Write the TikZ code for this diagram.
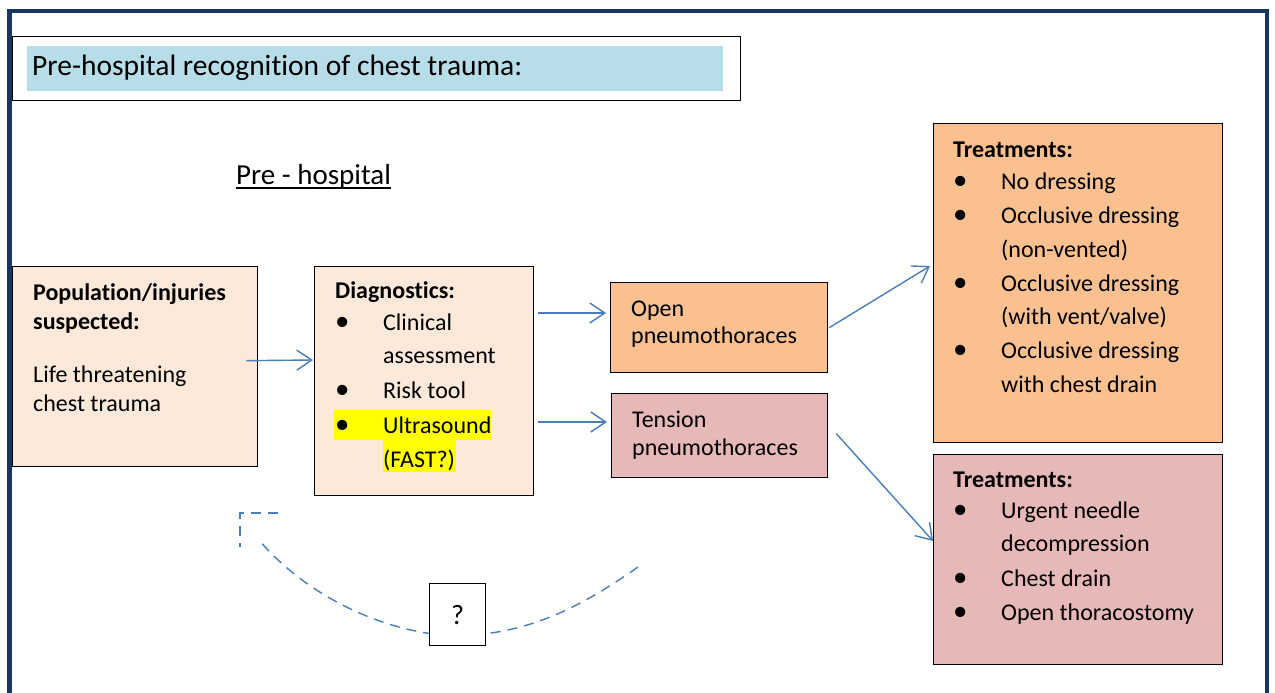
\documentclass[tikz,border=0pt]{standalone}
\usepackage{fontspec}
\setmainfont[Ligatures={NoCommon}]{Carlito}
\usetikzlibrary{arrows.meta}
\definecolor{framecol}{HTML}{17375E}
\definecolor{peach}{HTML}{FDE9D9}
\definecolor{orangebox}{HTML}{FAC090}
\definecolor{pinkbox}{HTML}{E6B9B8}
\definecolor{titleblue}{HTML}{B7DEE8}
\definecolor{arrowblue}{HTML}{4A7EBB}
\definecolor{hilite}{HTML}{FFFF00}
\newcommand{\bul}{\makebox[48pt][l]{\hspace{0pt}\scalebox{1.2}{\textbullet}}}
\begin{document}
\begin{tikzpicture}[x=1pt,y=-1pt,
  box/.style={draw=black, line width=1.3pt, inner sep=0pt, anchor=north west},
  txt/.style={anchor=base west, inner sep=0pt, font=\fontsize{24}{28}\selectfont},
  arr/.style={draw=arrowblue, line width=1.4pt, -{Straight Barb[length=15pt,width=20pt,line width=1.4pt]}},
  dashline/.style={draw=arrowblue, line width=1.4pt, dash pattern=on 10pt off 7pt}]
\useasboundingbox (0,0) rectangle (1275,693);
\fill[white] (0,0) rectangle (1275,693);
% outer frame
\draw[framecol, line width=4.5pt] (9.5,700) -- (9.5,11) -- (1267,11) -- (1267,700);
% title
\node[box, minimum width=728pt, minimum height=64pt] (titlebox) at (12,36) {};
\node[fill=titleblue, inner sep=0pt, anchor=north west, minimum width=696pt, minimum height=45pt] (titlefill) at (27,46) {};
\node[txt, font=\fontsize{29.5}{33}\selectfont] (title) at (32,75) {Pre-hospital recognition of chest trauma:};
% pre - hospital
\node[txt, font=\fontsize{29}{33}\selectfont] (ph) at (236,184) {Pre - hospital};
\draw[line width=1.3pt] ([yshift=-4pt]ph.base west) -- ([yshift=-4pt]ph.base east);
% population box
\node[box, fill=peach, minimum width=245pt, minimum height=200pt] (pop) at (12,266) {};
\node[txt] (pop1) at (33,300) {\bfseries Population/injuries};
\node[txt] (pop2) at (33,329) {\bfseries suspected:};
\node[txt] (pop3) at (33,382) {Life threatening};
\node[txt] (pop4) at (33,411) {chest trauma};
% diagnostics box
\node[box, fill=peach, minimum width=219pt, minimum height=229pt] (diag) at (314,266) {};
\fill[hilite] (334,410) rectangle (491,440);
\fill[hilite] (383,440) rectangle (456,472);
\node[txt] (d0) at (335,298) {\bfseries Diagnostics:};
\node[txt] (d1) at (335,330) {\bul Clinical};
\node[txt] (d2) at (383,363) {assessment};
\node[txt] (d3) at (335,398) {\bul Risk tool};
\node[txt] (d4) at (335,433) {\bul Ultrasound};
\node[txt] (d5) at (383,467) {(FAST?)};
% open / tension
\node[box, fill=orangebox, minimum width=217pt, minimum height=90pt] (open) at (610,282) {};
\node[txt] (o1) at (631,316) {Open};
\node[txt] (o2) at (631,343) {pneumothoraces};
\node[box, fill=pinkbox, minimum width=216pt, minimum height=84pt] (tens) at (611,393) {};
\node[txt] (t1) at (632,427) {Tension};
\node[txt] (t2) at (632,455) {pneumothoraces};
% treatments 1
\node[box, fill=orangebox, minimum width=289pt, minimum height=319pt] (tr1) at (933,123) {};
\node[txt] (a0) at (953,157) {\bfseries Treatments:};
\node[txt] (a1) at (953,189) {\bul No dressing};
\node[txt] (a2) at (953,223) {\bul Occlusive dressing};
\node[txt] (a3) at (1001,257) {(non-vented)};
\node[txt] (a4) at (953,291) {\bul Occlusive dressing};
\node[txt] (a5) at (1001,324) {(with vent/valve)};
\node[txt] (a6) at (953,358) {\bul Occlusive dressing};
\node[txt] (a7) at (1001,392) {with chest drain};
% treatments 2
\node[box, fill=pinkbox, minimum width=289pt, minimum height=210pt] (tr2) at (933,454) {};
\node[txt] (b0) at (953,487) {\bfseries Treatments:};
\node[txt] (b1) at (953,518) {\bul Urgent needle};
\node[txt] (b2) at (1001,551) {decompression};
\node[txt] (b3) at (953,586) {\bul Chest drain};
\node[txt] (b4) at (953,620) {\bul Open thoracostomy};
% arrows
\draw[arr] ([xshift=-12pt,yshift=6pt]pop.east) -- ([xshift=-1pt]diag.west |- 0,360);
\draw[arr] ([xshift=4pt,yshift=-47pt]diag.north east) -- ([xshift=-4pt,yshift=-31pt]open.north west);
\draw[arr] ([xshift=4pt,yshift=-156pt]diag.north east) -- ([xshift=-4pt,yshift=-29pt]tens.north west);
\draw[arr] ([xshift=1pt]open.east) -- ([xshift=-3pt,yshift=-143pt]tr1.north west);
\draw[arr] ([xshift=8pt,yshift=2pt]tens.east) -- ([xshift=0pt,yshift=-87pt]tr2.north west);
% dashed return loop
\coordinate (arcR) at (638,567);
\coordinate (arcM) at (457,636);
\coordinate (arcL) at (258,539);
\coordinate (elbA) at (278,513);
\coordinate (elbB) at (240,513);
\coordinate (elbC) at (240,547);
\draw[dashline] (arcR) .. controls (570,615) and (520,634) .. (arcM) .. controls (390,634) and (310,600) .. (arcL);
\draw[dashline] (elbA) -- (elbB) -- (elbC);
\node[box, fill=white, minimum width=56pt, minimum height=62pt] (q) at (429,583) {};
\node[txt, anchor=center, font=\fontsize{28}{32}\selectfont] (qt) at (q.center) {?};
\end{tikzpicture}
\end{document}
